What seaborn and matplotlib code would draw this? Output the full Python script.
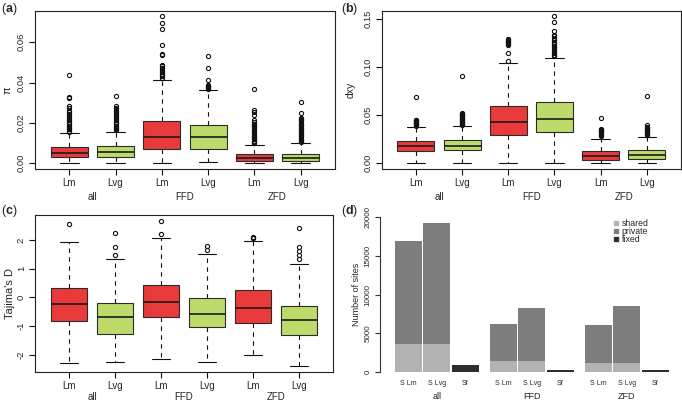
import numpy as np
import pandas as pd
import matplotlib
matplotlib.use("Agg")
import matplotlib.pyplot as plt
import seaborn as sns
from matplotlib.lines import Line2D

sns.set_style("white")
plt.rcParams["font.family"] = ["Liberation Sans", "DejaVu Sans"]
plt.rcParams["axes.unicode_minus"] = False
plt.rcParams["mathtext.fontset"] = "custom"
plt.rcParams["mathtext.bf"] = "Liberation Sans:bold"
plt.rcParams["mathtext.rm"] = "Liberation Sans"

# ---------------- data ----------------
groups = ["all", "FFD", "ZFD"]
species = ["Lm", "Lvg"]
box_names = [f"{g} {s}" for g in groups for s in species]

# panel (a): nucleotide diversity pi  (order: all Lm, all Lvg, FFD Lm, FFD Lvg, ZFD Lm, ZFD Lvg)
pi_lo = [0.0, 0.0002, 0.0, 0.0005, 0.0, 0.0]
pi_q1 = [0.0031, 0.0031, 0.0068, 0.0069, 0.0010, 0.0009]
pi_med = [0.0050, 0.0053, 0.0132, 0.0130, 0.0026, 0.0026]
pi_q3 = [0.0080, 0.0083, 0.0207, 0.0187, 0.0045, 0.0046]
pi_hi = [0.0148, 0.0153, 0.0415, 0.0362, 0.0092, 0.0100]
pi_out = [
    [0.0156, 0.0162, 0.0168, 0.0174, 0.0180, 0.0186, 0.0192, 0.0198, 0.0205, 0.0212, 0.0220,
     0.0228, 0.0236, 0.0244, 0.0252, 0.0260, 0.0272, 0.0285, 0.0322, 0.0328, 0.0439],
    [0.0163, 0.0168, 0.0174, 0.0180, 0.0186, 0.0192, 0.0198, 0.0205, 0.0212, 0.0220, 0.0228,
     0.0236, 0.0244, 0.0252, 0.0260, 0.0268, 0.0276, 0.0284, 0.0335],
    [0.0423, 0.0430, 0.0437, 0.0444, 0.0451, 0.0458, 0.0465, 0.0472, 0.0480, 0.0488, 0.0535,
     0.0540, 0.0585, 0.0667, 0.0693, 0.0730],
    [0.0368, 0.0372, 0.0376, 0.0380, 0.0385, 0.0390, 0.0411, 0.0473, 0.0534],
    [0.0100, 0.0106, 0.0112, 0.0118, 0.0124, 0.0130, 0.0136, 0.0142, 0.0148, 0.0154, 0.0160,
     0.0166, 0.0172, 0.0178, 0.0184, 0.0190, 0.0196, 0.0204, 0.0213, 0.0240, 0.0255, 0.0262, 0.0368],
    [0.0104, 0.0110, 0.0116, 0.0122, 0.0128, 0.0134, 0.0140, 0.0146, 0.0152, 0.0158, 0.0164,
     0.0170, 0.0176, 0.0182, 0.0188, 0.0194, 0.0200, 0.0207, 0.0214, 0.0220, 0.0226, 0.0249, 0.0302],
]
pi_ticks = [0.0, 0.02, 0.04, 0.06]
pi_ticklabels = ["0.00", "0.02", "0.04", "0.06"]

# panel (b): dxy
dxy_lo = [0.0, 0.0, 0.0, 0.0, 0.0, 0.0]
dxy_q1 = [0.0125, 0.0135, 0.0297, 0.0322, 0.0034, 0.0040]
dxy_med = [0.0180, 0.0183, 0.0426, 0.0464, 0.0079, 0.0083]
dxy_q3 = [0.0228, 0.0239, 0.0599, 0.0634, 0.0131, 0.0137]
dxy_hi = [0.0377, 0.0390, 0.1046, 0.1091, 0.0253, 0.0277]
dxy_out = [
    [0.0388, 0.0396, 0.0404, 0.0412, 0.0420, 0.0428, 0.0436, 0.0444, 0.0452, 0.0683],
    [0.0400, 0.0408, 0.0416, 0.0424, 0.0432, 0.0440, 0.0448, 0.0456, 0.0464, 0.0472, 0.0480,
     0.0488, 0.0496, 0.0504, 0.0512, 0.0520, 0.0908],
    [0.1064, 0.1143, 0.1230, 0.1240, 0.1250, 0.1260, 0.1270, 0.1280, 0.1290],
    [0.1110, 0.1120, 0.1130, 0.1145, 0.1160, 0.1175, 0.1190, 0.1205, 0.1220, 0.1235, 0.1250,
     0.1265, 0.1280, 0.1300, 0.1320, 0.1335, 0.1376, 0.1473, 0.1532],
    [0.0280, 0.0290, 0.0300, 0.0310, 0.0320, 0.0330, 0.0340, 0.0350, 0.0360, 0.0468],
    [0.0290, 0.0300, 0.0310, 0.0320, 0.0330, 0.0340, 0.0350, 0.0360, 0.0370, 0.0380, 0.0395, 0.0700],
]
dxy_ticks = [0.0, 0.05, 0.10, 0.15]
dxy_ticklabels = ["0.00", "0.05", "0.10", "0.15"]

# panel (c): Tajima's D
td_lo = [-2.28, -2.26, -2.17, -2.26, -2.02, -2.40]
td_q1 = [-0.82, -1.28, -0.68, -1.03, -0.88, -1.32]
td_med = [-0.23, -0.69, -0.16, -0.57, -0.36, -0.80]
td_q3 = [0.34, -0.19, 0.44, -0.01, 0.27, -0.30]
td_hi = [1.95, 1.34, 2.06, 1.50, 1.98, 1.15]
td_out = [
    [2.56],
    [1.48, 1.77, 2.24],
    [2.20, 2.68],
    [1.66, 1.80],
    [2.07, 2.09, 2.10],
    [1.34, 1.48, 1.63, 1.77, 2.41],
]
td_ticks = [-2, -1, 0, 1, 2]
td_ticklabels = ["-2", "-1", "0", "1", "2"]

# panel (d): number of sites
site_groups = ["all", "FFD", "ZFD"]
bar_labels = ["S Lm", "S Lvg", "Sf"]
shared_sites = [3600, 1420, 1200]
private_Lm = [13400, 4780, 4870]
private_Lvg = [15650, 6890, 7280]
fixed_sites = [900, 300, 220]
sites_ticks = [0, 5000, 10000, 15000, 20000]
sites_ticklabels = ["0", "5000", "10000", "15000", "20000"]

# ---------------- style ----------------
RED = "#E8393B"
GREEN = "#BDDB6B"
EDGE = "#2b2b2b"
C_SHARED = "#b2b2b2"
C_PRIVATE = "#7d7d7d"
C_FIXED = "#2e2e2e"
N_REP = 400

W, H = 682, 403
fig = plt.figure(figsize=(W / 100, H / 100), dpi=100)


def ax_px(left, top, right, bottom):
    return fig.add_axes([left / W, 1 - bottom / H, (right - left) / W, (bottom - top) / H])


def box_panel(ax, lo, q1, med, q3, hi, outs, ylim, ticks, ticklabels, ylabel, ylab_x,
              ylab_size, group_y):
    rows = []
    for name, a, b, c, d, e, o in zip(box_names, lo, q1, med, q3, hi, outs):
        vals = [a] + [b] * N_REP + [c] * N_REP + [d] * N_REP + [e] + list(o)
        rows.extend((name, v) for v in vals)
    df = pd.DataFrame(rows, columns=["box", "value"])
    sns.boxplot(
        data=df, x="box", y="value", hue="box", order=box_names, hue_order=box_names,
        palette=[RED, GREEN] * 3, legend=False, dodge=False, width=0.8, saturation=1,
        linecolor=EDGE, linewidth=0.8, whis=1.5, ax=ax,
        flierprops=dict(marker="o", markerfacecolor="none", markeredgecolor="#111111",
                        markersize=3.0, markeredgewidth=0.8),
        whiskerprops=dict(linestyle=(0, (4, 4)), color="#111111", linewidth=0.8),
        capprops=dict(color="#111111", linewidth=0.8),
        medianprops=dict(color="#1a1a1a", linewidth=1.2),
    )
    ax.set_xlim(-0.74, 5.74)
    ax.set_ylim(*ylim)
    ax.set_xticks(range(6), species * 3, fontsize=7)
    ax.set_yticks(ticks, ticklabels, fontsize=6.8, rotation=90, va="center")
    ax.set_xlabel("")
    ax.set_ylabel(ylabel, fontsize=ylab_size)
    ax.yaxis.set_label_coords(ylab_x, 0.5)
    ax.tick_params(axis="both", direction="out", length=4, width=0.8, color="#111111",
                   bottom=True, left=True, pad=2.5)
    for s in ax.spines.values():
        s.set_visible(True)
        s.set_color("#222222")
        s.set_linewidth(0.8)
    tr = ax.get_xaxis_transform()
    for i, g in enumerate(groups):
        ax.text(2 * i + 0.5, group_y, g, transform=tr, ha="center", va="center", fontsize=7)


ax_a = ax_px(35, 11, 335, 169)
box_panel(ax_a, pi_lo, pi_q1, pi_med, pi_q3, pi_hi, pi_out, (-0.0029, 0.0755),
          pi_ticks, pi_ticklabels, "π", -0.075, 8, -0.175)

ax_b = ax_px(381.7, 11, 681, 169)
box_panel(ax_b, dxy_lo, dxy_q1, dxy_med, dxy_q3, dxy_hi, dxy_out, (-0.0061, 0.1583),
          dxy_ticks, dxy_ticklabels, "dxy", -0.086, 7.5, -0.175)

ax_c = ax_px(35, 215, 333, 372.3)
box_panel(ax_c, td_lo, td_q1, td_med, td_q3, td_hi, td_out, (-2.62, 2.88),
          td_ticks, td_ticklabels, "Tajima's D", -0.068, 8, -0.16)

# ---------------- panel (d) ----------------
ax_d = ax_px(380, 217.3, 682, 372)
GROUP_STEP = 3.33
pos, heights, kinds, shared_h, tick_lab = [], [], [], [], []
for gi, g in enumerate(site_groups):
    base = gi * GROUP_STEP
    vals = [shared_sites[gi] + private_Lm[gi], shared_sites[gi] + private_Lvg[gi], fixed_sites[gi]]
    for bi, lab in enumerate(bar_labels):
        pos.append(round(base + bi, 4))
        heights.append(vals[bi])
        kinds.append("fixed" if lab == "Sf" else "private")
        shared_h.append(0 if lab == "Sf" else shared_sites[gi])
        tick_lab.append(lab)
df_d = pd.DataFrame({"pos": pos, "height": heights, "kind": kinds, "shared": shared_h})

sns.barplot(data=df_d, x="pos", y="height", hue="kind", native_scale=True, dodge=False,
            palette={"private": C_PRIVATE, "fixed": C_FIXED}, width=0.95, saturation=1,
            errorbar=None, linewidth=0, legend=False, ax=ax_d)
sns.barplot(data=df_d, x="pos", y="shared", native_scale=True, color=C_SHARED, width=0.95,
            saturation=1, errorbar=None, linewidth=0, ax=ax_d)

ax_d.set_xlim(-0.99, 9.6)
ax_d.set_ylim(0, 20000)
ax_d.set_xticks(pos, tick_lab, fontsize=5)
ax_d.set_yticks(sites_ticks, sites_ticklabels, fontsize=5.8, rotation=90, va="center")
ax_d.set_xlabel("")
ax_d.set_ylabel("Number of sites", fontsize=6.5)
ax_d.yaxis.set_label_coords(-0.064, 0.5)
ax_d.tick_params(axis="x", length=0, pad=6)
ax_d.tick_params(axis="y", direction="out", length=3.5, width=0.8, color="#333333", left=True, pad=2.5)
for k in ["top", "right", "bottom"]:
    ax_d.spines[k].set_visible(False)
ax_d.spines["left"].set_color("#333333")
ax_d.spines["left"].set_linewidth(0.8)
trd = ax_d.get_xaxis_transform()
for gi, g in enumerate(site_groups):
    ax_d.text(gi * GROUP_STEP + 1, -0.16, g, transform=trd, ha="center", va="center", fontsize=6.5)

handles = [Line2D([], [], marker="s", ls="", color=c, markersize=2.8)
           for c in [C_SHARED, C_PRIVATE, C_FIXED]]
ax_d.legend(handles, ["shared", "private", "fixed"], loc="upper left",
            bbox_to_anchor=((613 - 380) / 302, (372 - 219) / 154.7), frameon=False,
            fontsize=6.3, handlelength=0.6, handletextpad=0.4, labelspacing=-0.1,
            borderpad=0, borderaxespad=0)

# panel letters
for x, y, l in [(1, 9, "a"), (341, 9, "b"), (1, 211, "c"), (341, 211, "d")]:
    fig.text(x / W, 1 - y / H, "(" + r"$\mathbf{" + l + "}$" + ")", fontsize=9,
             ha="left", va="center")

fig.savefig("out.png", dpi=100)
